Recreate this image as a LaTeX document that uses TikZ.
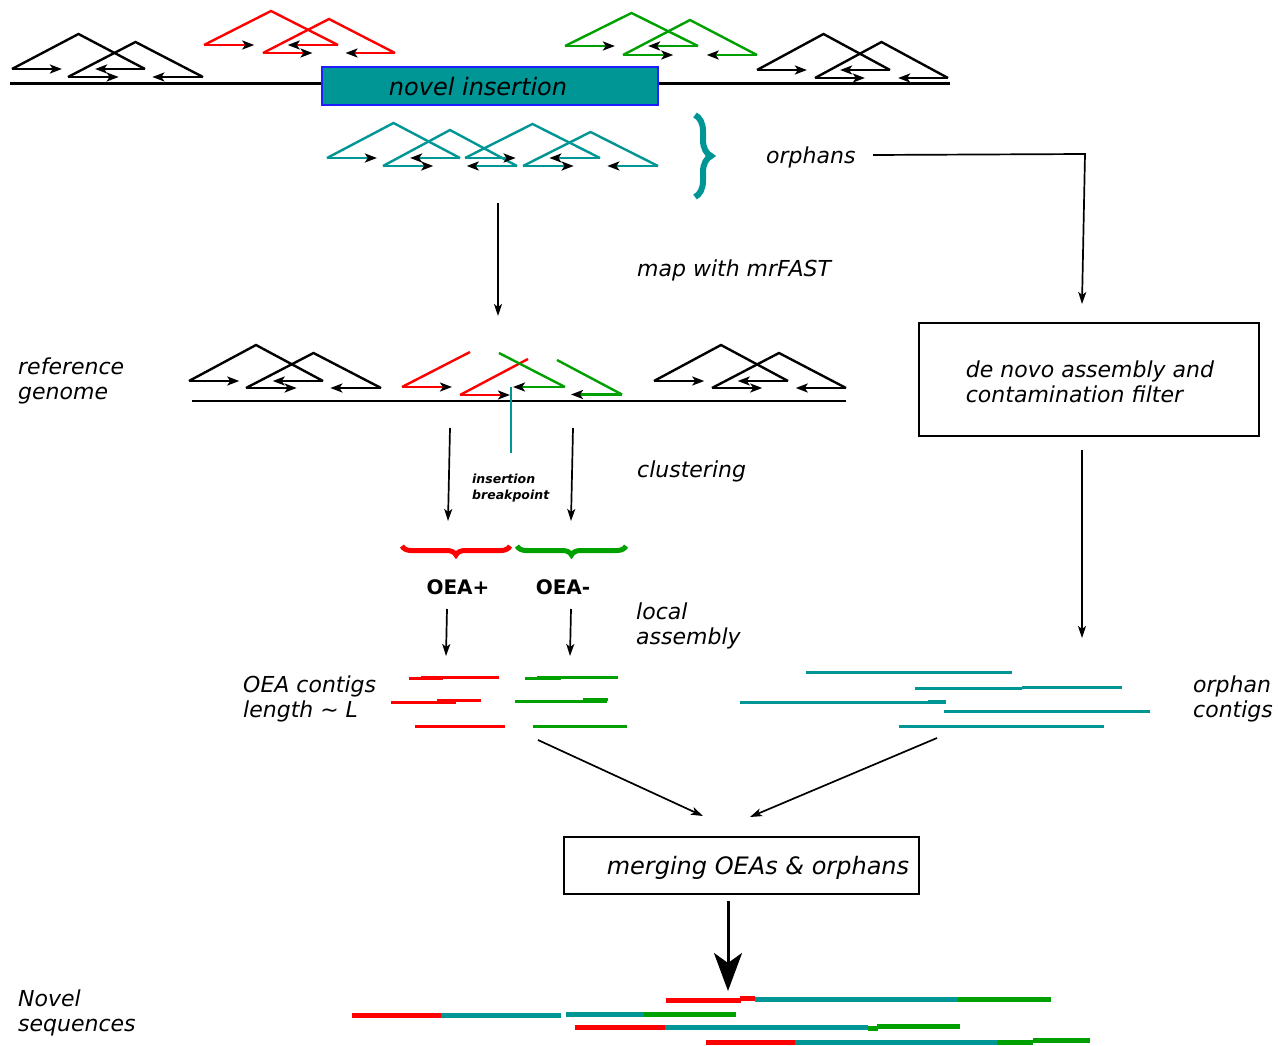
\documentclass[tikz,border=0pt]{standalone}
\usepackage{fontspec}
\setmainfont{DejaVu Sans}
\usetikzlibrary{arrows.meta,decorations.pathreplacing,calc}
\definecolor{tealc}{RGB}{0,150,150}
\definecolor{redc}{RGB}{255,0,0}
\definecolor{greenc}{RGB}{0,160,0}
\definecolor{bluec}{RGB}{30,30,255}
\newcommand{\rpair}[5]{%
  \draw[#1, readline] (#2,#4) -- ({(#2+#3)/2},#5) -- (#3,#4);
  \draw[#1, readarr] (#2,#4) -- ({#2+0.375*(#3-#2)},#4);
  \draw[#1, readarr] (#3,#4) -- ({#3-0.375*(#3-#2)},#4);
}
\begin{document}
\begin{tikzpicture}[x=1pt,y=-1pt,
  lab/.style={font=\fontsize{22}{25}\selectfont\itshape, inner sep=0pt, align=left, anchor=west},
  flow/.style={line width=1.7pt, -{Stealth[length=12pt,width=8pt,inset=3pt]}},
  readline/.style={line width=2.4pt, line join=miter},
  readarr/.style={line width=2.4pt, -{Stealth[length=12pt,width=9pt,inset=3pt,color=black]}},
  contig/.style={line width=3pt},
  novel/.style={line width=5pt},
  brc/.style={decorate, decoration={brace, amplitude=9pt}, line width=5pt}
]
\useasboundingbox (0,0) rectangle (1278,1046);

% ---------- top: donor genome with novel insertion ----------
\draw[line width=3pt] (10,84) -- (950,84);
\node[draw=bluec, fill=tealc, line width=1.5pt, minimum width=336pt, minimum height=38pt, inner sep=0pt] (ins) at (490,86) {};
\node[font=\fontsize{24}{27}\selectfont\itshape, inner sep=0pt] (instxt) at (478,87) {novel insertion};

\rpair{black}{12}{145}{69}{34}
\rpair{black}{68}{203}{77}{42}
\rpair{redc}{204}{338}{45}{11}
\rpair{redc}{263}{395}{53}{19}
\rpair{greenc}{565}{698}{46}{13}
\rpair{greenc}{623}{757}{55}{20}
\rpair{black}{757}{890}{70}{34}
\rpair{black}{815}{948}{78}{42}

% ---------- orphans ----------
\rpair{tealc}{327}{460}{158}{123}
\rpair{tealc}{383}{517}{166}{130}
\rpair{tealc}{465}{600}{158}{124}
\rpair{tealc}{523}{658}{166}{132}
\draw[tealc, line width=6pt, decorate, decoration={brace, amplitude=16pt}] (695,115) -- (695,197);
\node[lab] (orph) at (766,157) {orphans};

\coordinate (o1) at (873,155);
\coordinate (oc) at (1085,154);
\coordinate (dnIn) at (1082,304);
\draw[flow] (o1) -- (oc) -- (dnIn);

% ---------- map with mrFAST ----------
\coordinate (mapS) at (498,203);
\coordinate (mapE) at (498,316);
\draw[flow] (mapS) -- (mapE);
\node[lab] (map) at (637,270) {map with mrFAST};

% ---------- de novo assembly box ----------
\node[draw, line width=1.6pt, minimum width=340pt, minimum height=113pt, inner sep=0pt] (denovo) at (1089,379.5) {};
\node[font=\fontsize{22}{25}\selectfont\itshape, inner sep=0pt, align=left] (denovotxt) at (1090,382)
      {de novo assembly and\\contamination filter};
\coordinate (dnOut) at (1082,450);
\coordinate (ocTop) at (1082,638);
\draw[flow] (dnOut) -- (ocTop);

% ---------- reference genome ----------
\node[lab] (refg) at (18,380.5) {reference\\genome};
\draw[line width=2.8pt] (192,401) -- (846,401);
\rpair{black}{189}{323}{381}{345}
\rpair{black}{246}{381}{388}{353}
\rpair{black}{654}{788}{381}{345}
\rpair{black}{712}{846}{388}{353}
% OEA+ reads
\draw[redc, readline] (470,352) -- (402,387);
\draw[redc, readarr] (402,387) -- (452,387);
\draw[redc, readline] (528,359) -- (460,395);
\draw[redc, readarr] (460,395) -- (510,395);
% OEA- reads
\draw[greenc, readline] (499,353) -- (565,387);
\draw[greenc, readarr] (565,387) -- (513,387);
\draw[greenc, readline] (557,360) -- (622,394.5);
\draw[greenc, readarr] (622,394.5) -- (571,394.5);
% breakpoint
\coordinate (bpT) at (511,387);
\coordinate (bpB) at (511,453);
\draw[tealc, line width=1.8pt] (bpT) -- (bpB);
\node[font=\fontsize{12.5}{16}\selectfont\bfseries\itshape, inner sep=0pt, align=left, anchor=west] (bp) at (472,488) {insertion\\breakpoint};

% ---------- clustering ----------
\coordinate (cl1s) at (450,428);
\coordinate (cl1e) at (448,521);
\coordinate (cl2s) at (573,428);
\coordinate (cl2e) at (571,521);
\draw[flow] (cl1s) -- (cl1e);
\draw[flow] (cl2s) -- (cl2e);
\node[lab] (clu) at (637,471) {clustering};

\draw[redc, brc] (510,546) -- (402,546);
\draw[greenc, brc] (626,546) -- (517,546);
\node[font=\fontsize{20}{24}\selectfont\bfseries, inner sep=0pt] (oeap) at (458,587) {OEA+};
\node[font=\fontsize{20}{24}\selectfont\bfseries, inner sep=0pt] (oeam) at (563,587) {OEA-};

% ---------- local assembly ----------
\coordinate (la1s) at (447,609);
\coordinate (la1e) at (446,656);
\coordinate (la2s) at (571,609);
\coordinate (la2e) at (570,656);
\draw[flow] (la1s) -- (la1e);
\draw[flow] (la2s) -- (la2e);
\node[lab] (loc) at (636,626) {local\\assembly};

% ---------- OEA contigs ----------
\node[lab] (oeac) at (243,698.5) {OEA contigs\\length \textasciitilde{} L};
\draw[redc, contig] (409,678) -- (443,678);
\draw[redc, contig] (421,677) -- (499,677);
\draw[redc, contig] (391,702) -- (456,702);
\draw[redc, contig] (437,700.5) -- (481,700.5);
\draw[redc, contig] (415,726) -- (505,726);
\draw[greenc, contig] (525,678) -- (561,678);
\draw[greenc, contig] (537,677) -- (618,677);
\draw[greenc, contig] (515,701) -- (607,701);
\draw[greenc, contig] (583,699.5) -- (608,699.5);
\draw[greenc, contig] (533,726) -- (627,726);

% ---------- orphan contigs ----------
\node[lab] (orc) at (1193,698.5) {orphan\\contigs};
\draw[tealc, contig] (806,672) -- (1012,672);
\draw[tealc, contig] (915,688.5) -- (1022,688.5);
\draw[tealc, contig] (1022,687.8) -- (1122,687.8);
\draw[tealc, contig] (740,702) -- (946,702);
\draw[tealc, contig] (928,701) -- (946,701);
\draw[tealc, contig] (944,711.5) -- (1150,711.5);
\draw[tealc, contig] (899,726) -- (1104,726);

% ---------- merging ----------
\coordinate (m1s) at (538,740);
\coordinate (m1e) at (703,816);
\coordinate (m2s) at (937,738);
\coordinate (m2e) at (750,817);
\draw[flow] (m1s) -- (m1e);
\draw[flow] (m2s) -- (m2e);
\node[draw, line width=1.6pt, minimum width=355pt, minimum height=57pt, inner sep=0pt] (merge) at (741.5,865.5) {};
\node[font=\fontsize{24}{27}\selectfont\itshape, inner sep=0pt] (mergetxt) at (758,867.5) {merging OEAs \& orphans};
\coordinate (bigS) at (728,901);
\coordinate (bigE) at (728,991);
\draw[line width=3pt, -{Stealth[length=38pt,width=28pt,inset=10pt]}] (bigS) -- (bigE);

% ---------- novel sequences ----------
\node[lab] (nov) at (18,1013) {Novel\\sequences};
\draw[redc, novel] (666,1000) -- (741,1000);
\draw[redc, novel] (740,998.5) -- (755,998.5);
\draw[tealc, novel] (755,999) -- (958,999);
\draw[greenc, novel] (958,999) -- (1051,999);

\draw[redc, novel] (352,1015.5) -- (441,1015.5);
\draw[tealc, novel] (441,1015.5) -- (561,1015.5);
\draw[tealc, novel] (566,1014) -- (644,1014);
\draw[greenc, novel] (644,1014.3) -- (736,1014.3);

\draw[redc, novel] (575,1027.5) -- (665,1027.5);
\draw[tealc, novel] (665,1027.5) -- (868,1027.5);
\draw[greenc, novel] (868,1028) -- (878,1028);
\draw[greenc, novel] (877,1026.3) -- (960,1026.3);

\draw[redc, novel] (706,1042) -- (795,1042);
\draw[tealc, novel] (795,1042) -- (997,1042);
\draw[greenc, novel] (997,1042.3) -- (1033,1042.3);
\draw[greenc, novel] (1033,1040.7) -- (1090,1040.7);
\end{tikzpicture}
\end{document}
